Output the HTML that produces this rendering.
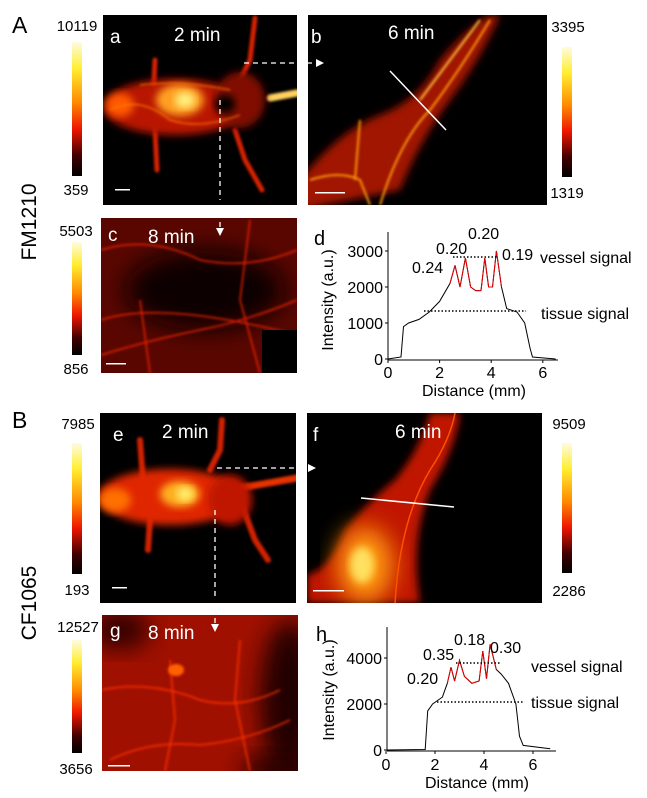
<!DOCTYPE html>
<html><head><meta charset="utf-8"><style>
html,body{margin:0;padding:0;background:#fff;}
svg{display:block;}
text{font-family:"Liberation Sans",Arial,sans-serif;}
</style></head><body>
<svg width="647" height="798" viewBox="0 0 647 798" xmlns="http://www.w3.org/2000/svg">
<defs>
<linearGradient id="cb" x1="0" y1="0" x2="0" y2="1">
<stop offset="0" stop-color="#fffbe0"/><stop offset="0.2" stop-color="#ffee30"/><stop offset="0.45" stop-color="#ff8a00"/><stop offset="0.65" stop-color="#ee1500"/><stop offset="0.85" stop-color="#400000"/><stop offset="1" stop-color="#000"/>
</linearGradient>
<filter id="bl" x="-20%" y="-20%" width="140%" height="140%"><feGaussianBlur stdDeviation="4"/></filter>
<filter id="bl2" x="-20%" y="-20%" width="140%" height="140%"><feGaussianBlur stdDeviation="1.2"/></filter>
<filter id="bl3" x="-30%" y="-30%" width="160%" height="160%"><feGaussianBlur stdDeviation="12"/></filter>
<clipPath id="ca"><rect x="103" y="15" width="194" height="190"/></clipPath>
<clipPath id="cbp"><rect x="308" y="15" width="239" height="190"/></clipPath>
<clipPath id="cc"><rect x="101" y="218" width="196" height="155"/></clipPath>
<clipPath id="ce"><rect x="100" y="413" width="196" height="190"/></clipPath>
<clipPath id="cf"><rect x="307" y="413" width="235" height="190"/></clipPath>
<clipPath id="cg"><rect x="102" y="615" width="196" height="156"/></clipPath>
</defs>

<text x="12" y="33" font-size="23">A</text>
<text transform="translate(36,222) rotate(-90)" font-size="21" text-anchor="middle">FM1210</text>
<text x="12" y="428" font-size="23">B</text>
<text transform="translate(36,603) rotate(-90)" font-size="21" text-anchor="middle">CF1065</text>

<g font-size="15" text-anchor="middle">
<rect x="72" y="42" width="10" height="134" fill="url(#cb)"/><text x="77" y="31">10119</text><text x="76" y="195">359</text>
<rect x="562" y="47" width="10" height="130" fill="url(#cb)"/><text x="568" y="32">3395</text><text x="567" y="198">1319</text>
<rect x="72" y="242" width="10" height="113" fill="url(#cb)"/><text x="76" y="236">5503</text><text x="76" y="374">856</text>
<rect x="72" y="443" width="10" height="131" fill="url(#cb)"/><text x="78" y="429">7985</text><text x="77" y="595">193</text>
<rect x="562" y="443" width="10" height="130" fill="url(#cb)"/><text x="569" y="429">9509</text><text x="569" y="596">2286</text>
<rect x="72" y="640" width="10" height="113" fill="url(#cb)"/><text x="78" y="632">12527</text><text x="76" y="774">3656</text>
</g>

<!-- panel a -->
<rect x="103" y="15" width="194" height="190" fill="#000"/>
<g clip-path="url(#ca)">
<g filter="url(#bl2)" stroke="#d82000" stroke-width="5" fill="none" stroke-linecap="round">
<path d="M155 60 L153 100 L155 130 L157 170"/>
<path d="M255 18 L250 60 L240 80"/>
<path d="M235 130 L245 160 L262 190"/>
<path d="M270 98 L297 93" stroke="#ffd060" stroke-width="7"/>
</g>
<ellipse cx="175" cy="107" rx="72" ry="28" fill="#b81600" filter="url(#bl)"/>
<ellipse cx="240" cy="100" rx="25" ry="28" fill="#801000" filter="url(#bl)"/>
<ellipse cx="225" cy="104" rx="10" ry="9" fill="#000" filter="url(#bl)"/>
<ellipse cx="180" cy="100" rx="24" ry="16" fill="#ffa020" filter="url(#bl)"/>
<ellipse cx="185" cy="100" rx="10" ry="8" fill="#fff080" filter="url(#bl)"/>
<ellipse cx="120" cy="105" rx="14" ry="12" fill="#ff5a00" filter="url(#bl)"/>
<g stroke="#ff7a10" stroke-width="1.2" fill="none" filter="url(#bl2)">
<path d="M110 110 Q140 95 170 120 Q200 130 240 115"/><path d="M140 85 Q180 80 230 90"/>
</g>
</g>
<text x="110" y="43" font-size="19" fill="#fff">a</text>
<text x="174" y="41" font-size="19" fill="#fff">2 min</text>
<rect x="115" y="189" width="15" height="1.5" fill="#fff"/>

<!-- panel b -->
<rect x="308" y="15" width="239" height="190" fill="#000"/>
<g clip-path="url(#cbp)">
<path d="M300 180 Q340 130 380 115 Q420 100 440 60 Q470 25 490 15 L500 15 Q480 60 450 100 Q420 140 400 190 L300 210 Z" fill="#a01200" filter="url(#bl)"/>
<g filter="url(#bl2)" stroke="#ff9a10" stroke-width="2" fill="none">
<path d="M380 205 Q400 140 430 110 Q460 70 490 20"/>
<path d="M310 180 Q340 170 360 180 L370 205"/>
<path d="M360 120 L355 180"/>
<path d="M420 100 Q450 60 480 20" stroke="#ffc040"/>
</g>
</g>
<line x1="390" y1="71" x2="446" y2="130" stroke="#fff" stroke-width="1.5"/>
<text x="311" y="43" font-size="19" fill="#fff">b</text>
<text x="388" y="39" font-size="19" fill="#fff">6 min</text>
<rect x="315" y="192" width="30" height="1.5" fill="#fff"/>

<!-- panel c -->
<rect x="101" y="218" width="196" height="155" fill="#5a0600"/>
<g clip-path="url(#cc)">
<ellipse cx="205" cy="290" rx="80" ry="40" fill="#0a0000" filter="url(#bl3)"/>
<g stroke="#e82000" stroke-width="1.5" fill="none" filter="url(#bl2)">
<path d="M101 250 Q150 235 200 260 Q250 270 297 250"/>
<path d="M101 355 Q150 340 200 330 Q250 320 297 300"/>
<path d="M140 300 L150 373"/><path d="M250 220 L240 300 L260 373"/>
<path d="M101 320 Q160 300 297 335"/>
</g>
<rect x="262" y="330" width="35" height="43" fill="#000"/>
</g>
<text x="108" y="241" font-size="19" fill="#fff">c</text>
<text x="148" y="243" font-size="19" fill="#fff">8 min</text>
<rect x="106" y="363" width="20" height="1.5" fill="#fff"/>

<g stroke="#fff" stroke-width="1.3" stroke-dasharray="5,4" fill="none">
<line x1="244" y1="63" x2="317" y2="63"/>
<line x1="220" y1="100" x2="220" y2="200"/>
<line x1="220" y1="222" x2="220" y2="228"/>
</g>
<path d="M316 59 L324 63 L316 67 Z" fill="#fff"/>
<path d="M216 228 L220 236 L224 228 Z" fill="#fff"/>

<!-- plot d -->
<g font-size="16">
<text x="314" y="245" font-size="20">d</text>
<line x1="388" y1="232" x2="388" y2="360" stroke="#000"/>
<line x1="388" y1="360" x2="558" y2="360" stroke="#000"/>
<g stroke="#000"><line x1="388" y1="360" x2="388" y2="363"/><line x1="439.6" y1="360" x2="439.6" y2="363"/><line x1="491.2" y1="360" x2="491.2" y2="363"/><line x1="542.8" y1="360" x2="542.8" y2="363"/>
<line x1="385" y1="359" x2="388" y2="359"/><line x1="385" y1="323" x2="388" y2="323"/><line x1="385" y1="287" x2="388" y2="287"/><line x1="385" y1="251" x2="388" y2="251"/></g>
<g text-anchor="middle"><text x="388" y="378">0</text><text x="439.6" y="378">2</text><text x="491.2" y="378">4</text><text x="542.8" y="378">6</text>
<text x="474" y="396">Distance (mm)</text></g>
<g text-anchor="end"><text x="383" y="365">0</text><text x="383" y="329">1000</text><text x="383" y="293">2000</text><text x="383" y="257">3000</text></g>
<text transform="translate(333,300) rotate(-90)" text-anchor="middle">Intensity (a.u.)</text>
<polyline fill="none" stroke="#000" stroke-width="1" points="388,359 401,357 403.5,326.6 408.6,323 419,319.4 429.3,312 439.6,301.4 450,283.4 455,265.4 460,287 465.4,258 470.6,287 475.7,290.6 481,290.6 484.8,258 488.6,287 492.5,287 496.4,251 501.5,287 506.7,308.6 517,312 524.7,323 530,348 532.5,357 555.7,359"/>
<polyline fill="none" stroke="#e00000" stroke-width="1" points="450,283.4 455,265.4 460,287 465.4,258 470.6,287 475.7,290.6 481,290.6 484.8,258 488.6,287 492.5,287 496.4,251 501.5,287"/>
<line x1="453" y1="257" x2="498" y2="257" stroke="#000" stroke-width="1.5" stroke-dasharray="1.5,2"/>
<line x1="424" y1="311" x2="526" y2="311" stroke="#000" stroke-width="1.5" stroke-dasharray="1.5,2"/>
<text x="412" y="273">0.24</text><text x="436" y="254">0.20</text><text x="468" y="239">0.20</text><text x="502" y="260">0.19</text>
<text x="540" y="263">vessel signal</text><text x="541" y="319">tissue signal</text>
</g>

<!-- panel e -->
<rect x="100" y="413" width="196" height="190" fill="#000"/>
<g clip-path="url(#ce)">
<g filter="url(#bl2)" stroke="#d02000" stroke-width="6" fill="none" stroke-linecap="round">
<path d="M140 440 L143 480"/><path d="M222 420 L220 450 L210 470"/>
<path d="M240 500 L255 540 L268 560"/><path d="M150 520 L148 550"/>
<path d="M240 488 L297 478" stroke="#e83000" stroke-width="7"/>
</g>
<ellipse cx="170" cy="497" rx="72" ry="28" fill="#e02800" filter="url(#bl)"/>
<ellipse cx="230" cy="500" rx="22" ry="25" fill="#c01800" filter="url(#bl)"/>
<ellipse cx="180" cy="494" rx="20" ry="13" fill="#ffb020" filter="url(#bl)"/>
<ellipse cx="185" cy="494" rx="8" ry="7" fill="#fff070" filter="url(#bl)"/>
<ellipse cx="115" cy="500" rx="16" ry="12" fill="#ff7000" filter="url(#bl)"/>
</g>
<text x="113" y="441" font-size="19" fill="#fff">e</text>
<text x="162" y="438" font-size="19" fill="#fff">2 min</text>
<rect x="112" y="587" width="15" height="1.5" fill="#fff"/>

<!-- panel f -->
<rect x="307" y="413" width="235" height="190" fill="#000"/>
<g clip-path="url(#cf)">
<path d="M307 575 Q330 570 345 530 Q370 500 395 480 Q420 450 430 413 L460 413 Q455 450 430 490 Q410 540 420 603 L307 603 Z" fill="#c01800" filter="url(#bl)"/>
<ellipse cx="365" cy="565" rx="28" ry="38" fill="#ff9a10" filter="url(#bl3)"/>
<ellipse cx="362" cy="565" rx="12" ry="18" fill="#ffe060" filter="url(#bl)"/>
<path d="M395 603 Q400 520 430 470 Q450 440 455 413" stroke="#ff5000" stroke-width="1.5" fill="none"/>
</g>
<line x1="361" y1="498" x2="454" y2="507" stroke="#fff" stroke-width="1.5"/>
<text x="313" y="441" font-size="19" fill="#fff">f</text>
<text x="395" y="438" font-size="19" fill="#fff">6 min</text>
<rect x="313" y="590" width="31" height="1.5" fill="#fff"/>
<path d="M308 464 L316 468 L308 472 Z" fill="#fff"/>

<!-- panel g -->
<rect x="102" y="615" width="196" height="156" fill="#a01000"/>
<g clip-path="url(#cg)">
<ellipse cx="290" cy="700" rx="30" ry="80" fill="#200000" filter="url(#bl3)"/>
<ellipse cx="120" cy="630" rx="30" ry="20" fill="#300000" filter="url(#bl3)"/>
<ellipse cx="280" cy="770" rx="40" ry="15" fill="#200000" filter="url(#bl3)"/>
<g stroke="#ff3000" stroke-width="1.5" fill="none" filter="url(#bl2)">
<path d="M102 690 Q150 680 200 700 Q240 710 280 690"/>
<path d="M110 760 Q150 740 200 745 Q250 740 290 720"/>
<path d="M170 660 L175 720 L165 771"/><path d="M240 640 L235 700 L250 771"/>
</g>
<ellipse cx="176" cy="670" rx="8" ry="6" fill="#ff6000" filter="url(#bl2)"/>
</g>
<text x="110" y="637" font-size="19" fill="#fff">g</text>
<text x="148" y="639" font-size="19" fill="#fff">8 min</text>
<rect x="108" y="765" width="22" height="1.5" fill="#fff"/>

<g stroke="#fff" stroke-width="1.3" stroke-dasharray="5,4" fill="none">
<line x1="217" y1="468" x2="296" y2="468"/>
<line x1="215" y1="510" x2="215" y2="600"/>
<line x1="215" y1="618" x2="215" y2="624"/>
</g>
<path d="M211 624 L215 632 L219 624 Z" fill="#fff"/>

<!-- plot h -->
<g font-size="16">
<text x="316" y="641" font-size="20">h</text>
<line x1="387" y1="627" x2="387" y2="751" stroke="#000"/>
<line x1="387" y1="751" x2="556" y2="751" stroke="#000"/>
<g stroke="#000"><line x1="386" y1="751" x2="386" y2="754"/><line x1="435" y1="751" x2="435" y2="754"/><line x1="484" y1="751" x2="484" y2="754"/><line x1="533" y1="751" x2="533" y2="754"/>
<line x1="384" y1="750" x2="387" y2="750"/><line x1="384" y1="704" x2="387" y2="704"/><line x1="384" y1="658" x2="387" y2="658"/></g>
<g text-anchor="middle"><text x="386" y="770">0</text><text x="435" y="770">2</text><text x="484" y="770">4</text><text x="533" y="770">6</text>
<text x="477" y="788">Distance (mm)</text></g>
<g text-anchor="end"><text x="382" y="756">0</text><text x="382" y="710">2000</text><text x="382" y="664">4000</text></g>
<text transform="translate(334,690) rotate(-90)" text-anchor="middle">Intensity (a.u.)</text>
<polyline fill="none" stroke="#000" stroke-width="1" points="386,750 425.2,749.5 427.7,710.9 432.6,704 442.4,697.1 447.3,683.3 451,667.2 454.6,681 459.5,660.3 464.4,676.4 471.8,683.3 479.1,681 482.8,651.1 486.5,678.7 490.1,644.2 496.3,669.5 501.2,674.1 508.5,683.3 515.9,704 519.5,736.2 523.2,745.4 550.2,748.8"/>
<polyline fill="none" stroke="#e00000" stroke-width="1" points="447.3,683.3 451,667.2 454.6,681 459.5,660.3 464.4,676.4 471.8,683.3 479.1,681 482.8,651.1 486.5,678.7 490.1,644.2 496.3,669.5"/>
<line x1="456" y1="663" x2="500" y2="663" stroke="#000" stroke-width="1.5" stroke-dasharray="1.5,2"/>
<line x1="437" y1="702" x2="523" y2="702" stroke="#000" stroke-width="1.5" stroke-dasharray="1.5,2"/>
<text x="407" y="684">0.20</text><text x="423" y="660">0.35</text><text x="454" y="645">0.18</text><text x="490" y="653">0.30</text>
<text x="531" y="672">vessel signal</text><text x="531" y="708">tissue signal</text>
</g>
</svg>
</body></html>
